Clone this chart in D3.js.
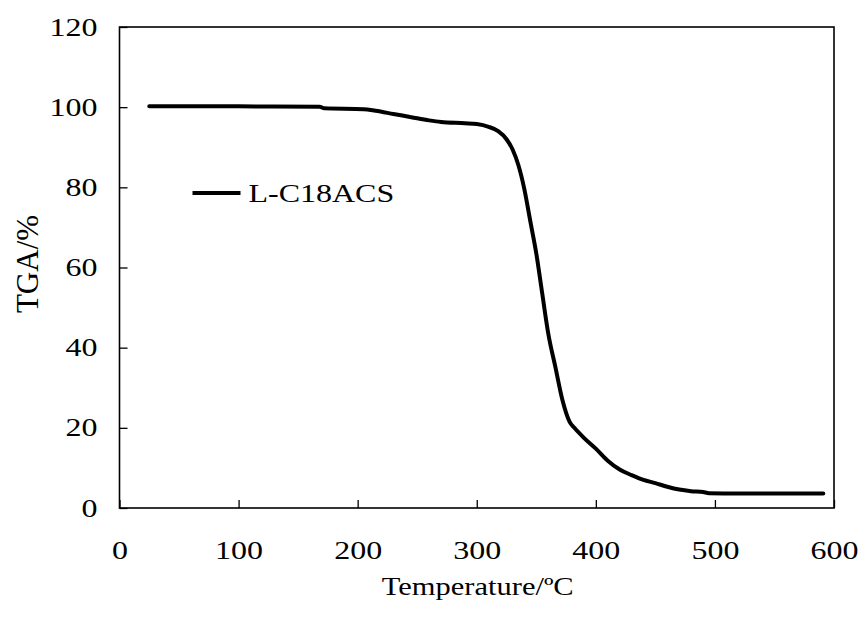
<!DOCTYPE html>
<html>
<head>
<meta charset="utf-8">
<script src="https://cdn.jsdelivr.net/npm/d3@7"></script>
<style>
  body { margin: 0; background: #fff; }
  text { font-family: "Liberation Serif", "Times New Roman", serif; fill: #000; }
</style>
</head>
<body>
<script>
// TGA curve
var temps = [25, 60, 100, 168, 172, 205, 215, 230, 245, 260, 270, 290, 300, 310, 318, 325, 330, 335, 340, 345, 350, 355, 360, 366, 372, 378, 382, 390, 400, 410, 420, 430, 440, 450, 460, 470, 480, 490, 495, 520, 560, 591];
var tga   = [100.2, 100.2, 100.2, 100.1, 99.7, 99.5, 99.1, 98.3, 97.5, 96.7, 96.3, 96.0, 95.8, 95.1, 94.0, 92.0, 89.5, 85.5, 79.5, 71.5, 63.5, 53.5, 43.6, 35.2, 26.9, 21.5, 20.0, 17.5, 14.8, 11.8, 9.6, 8.2, 7.0, 6.2, 5.3, 4.6, 4.2, 4.0, 3.7, 3.6, 3.6, 3.6];
var xTicks = [0, 100, 200, 300, 400, 500, 600];
var yTicks = [0, 20, 40, 60, 80, 100, 120];
var seriesName = "L-C18ACS";

var svgWidth = 863, svgHeight = 619;
var margin = {top: 27, right: 29, bottom: 111, left: 119.5},
    width = svgWidth - margin.left - margin.right,
    height = svgHeight - margin.top - margin.bottom;

// the original text is a bit wider than plain Times
var stretch = "scale(1.28,1)";

var data = temps.map(function(t, i) { return {t: t, v: tga[i]}; });

var svg = d3.select("body").append("svg")
    .attr("width", svgWidth)
    .attr("height", svgHeight)
  .append("g")
    .attr("transform", "translate(" + margin.left + "," + margin.top + ")");

var x = d3.scaleLinear().domain([0, 600]).range([0, width]);
var y = d3.scaleLinear().domain([0, 120]).range([height, 0]);

// ticks point inward
var xAxis = svg.append("g")
    .attr("transform", "translate(0," + height + ")")
    .call(d3.axisBottom(x).tickValues(xTicks).tickSizeInner(-8).tickSizeOuter(0).tickPadding(33));
var yAxis = svg.append("g")
    .call(d3.axisLeft(y).tickValues(yTicks).tickSizeInner(-8).tickSizeOuter(0).tickPadding(22));

[xAxis, yAxis].forEach(function(a) {
  a.select(".domain").remove();
  a.selectAll("line").attr("stroke", "#000").attr("stroke-width", 1.3);
  a.selectAll("text").style("font-family", "Liberation Serif").style("font-size", "25px");
});
xAxis.selectAll("text").attr("dy", "0.71em")
    .attr("transform", function() { return "translate(0," + d3.select(this).attr("y") + ") " + stretch; })
    .attr("y", 0);
yAxis.selectAll("text")
    .attr("transform", function() { return "translate(" + d3.select(this).attr("x") + ",0) " + stretch; })
    .attr("x", 0);

// frame
svg.append("rect")
    .attr("width", width)
    .attr("height", height)
    .attr("fill", "none")
    .attr("stroke", "#000")
    .attr("stroke-width", 1.6);

var valueline = d3.line()
    .x(function(d) { return x(d.t); })
    .y(function(d) { return y(d.v); })
    .curve(d3.curveMonotoneX);

svg.append("path")
    .datum(data)
    .attr("fill", "none")
    .attr("stroke", "#000")
    .attr("stroke-width", 4)
    .attr("stroke-linecap", "round")
    .attr("d", valueline);

// legend
svg.append("line")
    .attr("x1", 73).attr("x2", 121)
    .attr("y1", 166).attr("y2", 166)
    .attr("stroke", "#000").attr("stroke-width", 4);
svg.append("text")
    .attr("transform", "translate(129,166) " + stretch)
    .attr("dy", "0.35em")
    .style("font-size", "25px")
    .text(seriesName);

// axis titles
svg.append("text")
    .attr("transform", "translate(" + (width / 2 + 1) + "," + (height + 87) + ") scale(1.22,1)")
    .attr("text-anchor", "middle")
    .style("font-size", "25px")
    .text("Temperature/ºC");

svg.append("text")
    .attr("transform", "rotate(-90)")
    .attr("x", -237)
    .attr("y", -82)
    .attr("text-anchor", "middle")
    .style("font-size", "31px")
    .text("TGA/%");
</script>
</body>
</html>
